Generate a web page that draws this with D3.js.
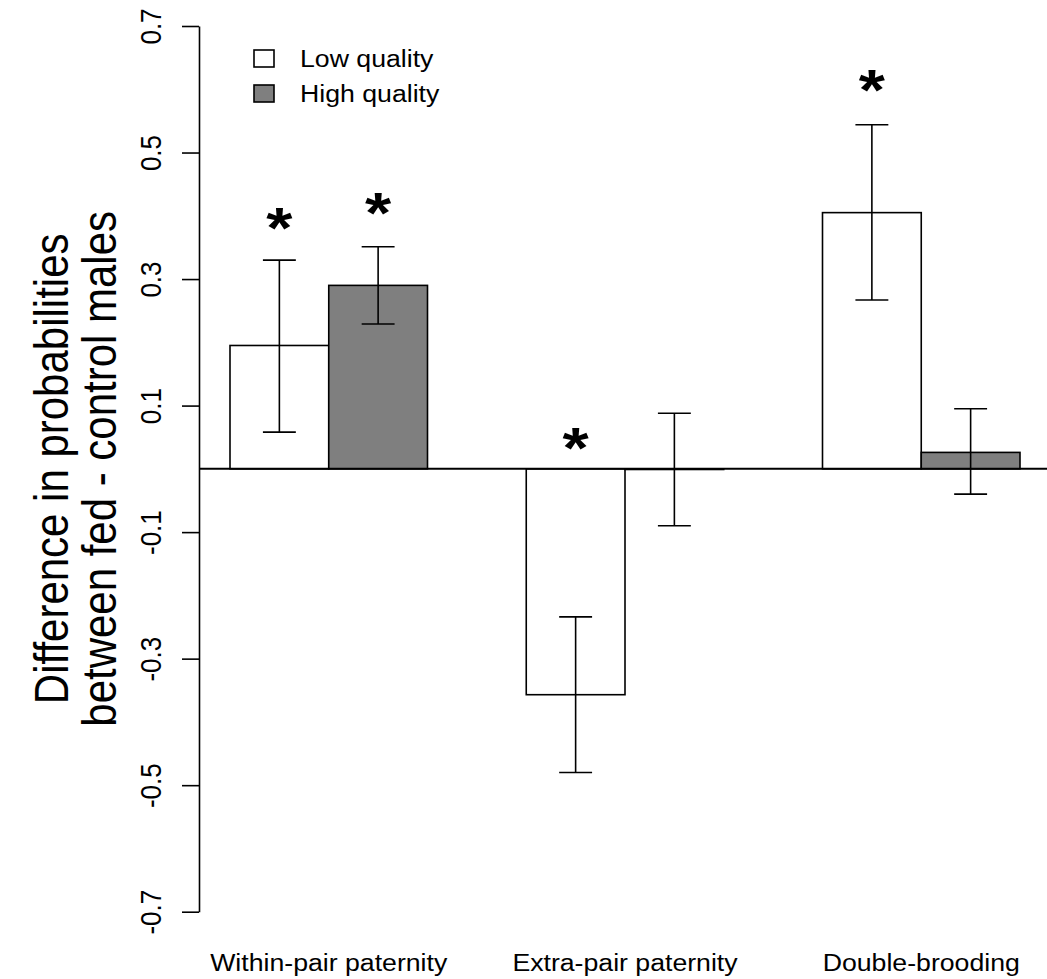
<!DOCTYPE html>
<html>
<head>
<meta charset="utf-8">
<script src="https://cdn.jsdelivr.net/npm/d3@7"></script>
<style>
  body { margin: 0; background: #fff; }
  text { font-family: "Liberation Sans", Arial, Helvetica, sans-serif; fill: #000; }
</style>
</head>
<body>
<div id="chart"></div>
<script>
// Data.
const categories = ['Within-pair paternity', 'Extra-pair paternity', 'Double-brooding'];
const groups = ['Low quality', 'High quality'];
const lowValues = [0.195, -0.357, 0.405];
const highValues = [0.290, -0.001, 0.026];
const lowErrLow = [0.058, -0.480, 0.267];
const lowErrHigh = [0.330, -0.234, 0.544];
const highErrLow = [0.229, -0.090, -0.040];
const highErrHigh = [0.351, 0.088, 0.095];
const yTicks = [-0.7, -0.5, -0.3, -0.1, 0.1, 0.3, 0.5, 0.7];
// significance stars: category, group, level (data units)
const starCats = [0, 0, 1, 2];
const starGroups = [0, 1, 0, 0];
const starLevels = [0.393, 0.417, 0.046, 0.612];

const yLabelLines = ['Difference in probabilities', 'between fed - control males'];
const fills = ['#ffffff', '#7f7f7f'];

// Constants.
const width = 1047;
const height = 979;
const sx = 1.16; // the original picture is a bit wider than tall
const baseFont = 23;
const tickFont = 26;

const rows = categories.map((c, i) => ({
  cat: c,
  bars: [
    {grp: groups[0], value: lowValues[i], lo: lowErrLow[i], hi: lowErrHigh[i]},
    {grp: groups[1], value: highValues[i], lo: highErrLow[i], hi: highErrHigh[i]},
  ],
}));

const svg = d3.select('#chart').append('svg')
  .attr('width', width)
  .attr('height', height);

// scales
const y = d3.scaleLinear().domain([-0.7, 0.7]).range([911.7, 26]);
const x0 = d3.scaleBand().domain(categories).range([230, 1020]).paddingInner(1 / 3);
const x1 = d3.scaleBand().domain(groups).range([0, x0.bandwidth()]);
const axisX = 199;

// bars
const groupSel = svg.selectAll('g.grp')
  .data(rows)
  .join('g')
  .attr('class', 'grp')
  .attr('transform', (d) => `translate(${x0(d.cat)},0)`);

groupSel.selectAll('rect')
  .data((d) => d.bars)
  .join('rect')
  .attr('x', (d) => x1(d.grp))
  .attr('y', (d) => y(Math.max(0, d.value)))
  .attr('width', x1.bandwidth())
  .attr('height', (d) => Math.abs(y(d.value) - y(0)))
  .attr('fill', (d, i) => fills[i])
  .attr('stroke', '#000')
  .attr('stroke-width', 1.6);

// zero line across the plot region
svg.append('line')
  .attr('x1', axisX).attr('x2', width)
  .attr('y1', y(0)).attr('y2', y(0))
  .attr('stroke', '#000')
  .attr('stroke-width', 2);

// error bars
const capHalf = x1.bandwidth() / 6;
const err = groupSel.selectAll('g.err')
  .data((d) => d.bars)
  .join('g')
  .attr('class', 'err')
  .attr('transform', (d) => `translate(${x1(d.grp) + x1.bandwidth() / 2},0)`)
  .attr('stroke', '#000')
  .attr('stroke-width', 1.6);
err.append('line').attr('x1', 0).attr('x2', 0)
  .attr('y1', (d) => y(d.hi)).attr('y2', (d) => y(d.lo));
err.append('line').attr('x1', -capHalf).attr('x2', capHalf)
  .attr('y1', (d) => y(d.hi)).attr('y2', (d) => y(d.hi));
err.append('line').attr('x1', -capHalf).attr('x2', capHalf)
  .attr('y1', (d) => y(d.lo)).attr('y2', (d) => y(d.lo));

// stars
const starSize = 58;
svg.selectAll('text.star')
  .data(starLevels)
  .join('text')
  .attr('class', 'star')
  .attr('text-anchor', 'middle')
  .attr('font-weight', 'bold')
  .attr('font-size', starSize)
  .attr('transform', (d, i) => {
    const cx = x0(categories[starCats[i]]) + x1(groups[starGroups[i]]) + x1.bandwidth() / 2;
    return `translate(${cx},${y(d) + 0.48 * starSize}) scale(${sx},1)`;
  })
  .text('*');

// y axis
const yAxis = d3.axisLeft(y)
  .tickValues(yTicks)
  .tickSize(17)
  .tickSizeOuter(0)
  .tickFormat((d) => d.toFixed(1));

const axisG = svg.append('g')
  .attr('transform', `translate(${axisX},0)`)
  .call(yAxis);
axisG.select('.domain').attr('stroke-width', 1.6);
axisG.selectAll('.tick line').attr('stroke-width', 1.6);
axisG.selectAll('.tick text')
  .attr('x', null)
  .attr('dy', null)
  .attr('text-anchor', 'middle')
  .attr('font-size', tickFont)
  .attr('font-family', '"Liberation Sans", Arial, sans-serif')
  .attr('transform', `translate(-38,0) scale(${sx},1) rotate(-90)`);

// y axis title
svg.selectAll('text.ylab')
  .data(yLabelLines)
  .join('text')
  .attr('class', 'ylab')
  .attr('text-anchor', 'middle')
  .attr('font-size', 42)
  .attr('transform', (d, i) => `translate(${68 + i * 48},${(y(0.7) + y(-0.7)) / 2}) scale(${sx},1) rotate(-90)`)
  .text((d) => d);

// category labels
svg.selectAll('text.cat')
  .data(categories)
  .join('text')
  .attr('class', 'cat')
  .attr('text-anchor', 'middle')
  .attr('font-size', baseFont)
  .attr('transform', (d) => `translate(${x0(d) + x0.bandwidth() / 2},971) scale(${sx},1)`)
  .text((d) => d);

// legend
const legend = svg.append('g').attr('transform', 'translate(254,50)');
const item = legend.selectAll('g')
  .data(groups)
  .join('g')
  .attr('transform', (d, i) => `translate(0,${i * 35})`);
item.append('rect')
  .attr('width', 20).attr('height', 17)
  .attr('fill', (d, i) => fills[i])
  .attr('stroke', '#000')
  .attr('stroke-width', 1.6);
item.append('text')
  .attr('font-size', baseFont)
  .attr('transform', `translate(46,17) scale(${sx},1)`)
  .text((d) => d);
</script>
</body>
</html>
